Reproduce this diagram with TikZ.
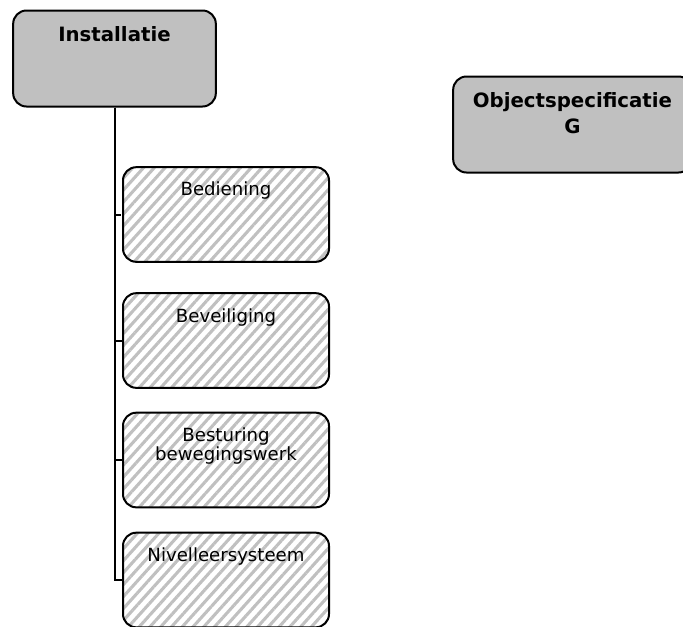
\documentclass[tikz,border=0pt]{standalone}
\usepackage{fontspec}
\setmainfont{DejaVu Sans}
\usetikzlibrary{patterns.meta}
\definecolor{kader}{HTML}{C0C0C0}

\tikzset{
  blok/.style={draw, line width=1.5pt, rounded corners=10pt, inner sep=0pt},
  hoofd/.style={blok, fill=kader, minimum width=152pt, minimum height=72pt},
  object/.style={blok, fill=kader, minimum width=179pt, minimum height=72pt},
  deel/.style={blok, pattern={Lines[angle=48, distance=6pt, line width=2.3pt]},
    pattern color=kader, minimum width=154.5pt, minimum height=71pt},
  kop/.style={anchor=north, inner sep=0pt, align=center, yshift=-12.5pt,
    font=\fontsize{14.8}{19.5}\selectfont\bfseries},
  tekst/.style={anchor=north, inner sep=0pt, align=center, yshift=-12pt,
    font=\fontsize{13.6}{14}\selectfont},
  lijn/.style={line width=1.5pt}
}

\begin{document}
\begin{tikzpicture}[x=0.75pt,y=-0.75pt]
  \fill[white] (0,0) rectangle (683,626);
  \useasboundingbox (0,0) rectangle (683,626);
  \clip (0,0) rectangle (683,626);

  % bovenste blok en de onderdelen
  \node[hoofd, label={[kop]north:Installatie}] (inst) at (114.5,58.5) {};
  \node[object, label={[kop]north:Objectspecificatie\\G}] (spec) at (572.5,124.5) {};

  \node[deel, label={[tekst]north:Bediening}] (bed) at (226,214.5) {};
  \node[deel, label={[tekst]north:Beveiliging}] (bev) at (226,340.5) {};
  \node[deel, label={[tekst]north:Besturing\\bewegingswerk}] (bes) at (226,460) {};
  \node[deel, label={[tekst]north:Nivelleersysteem}] (niv) at (226,580) {};

  % verbindingen
  \draw[lijn] (inst.south) |- (bed.west);
  \draw[lijn] (inst.south) |- (bev.west);
  \draw[lijn] (inst.south) |- (bes.west);
  \draw[lijn] (inst.south) |- (niv.west);
\end{tikzpicture}
\end{document}
